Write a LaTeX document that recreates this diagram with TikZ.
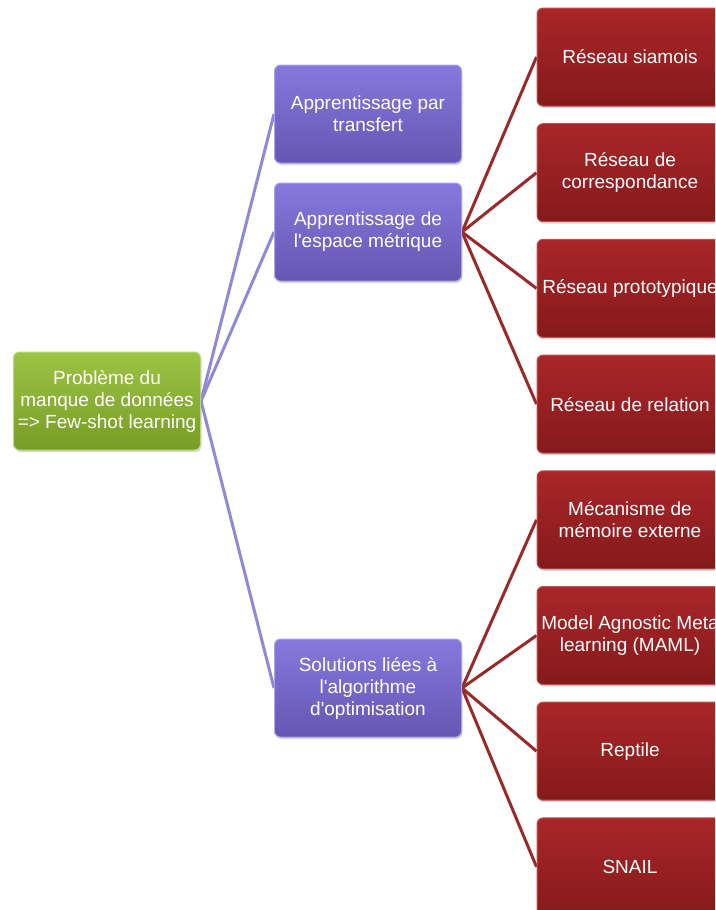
\documentclass[tikz,border=0pt]{standalone}
\usepackage{fontspec}
\setmainfont{Liberation Sans}[Ligatures=TeXOff]
\usetikzlibrary{positioning,shadows,backgrounds}

\definecolor{rootgreenA}{HTML}{9CC444}
\definecolor{rootgreenB}{HTML}{789C26}
\definecolor{midpurpleA}{HTML}{8579DD}
\definecolor{midpurpleB}{HTML}{6656B3}
\definecolor{leafredA}{HTML}{AA2628}
\definecolor{leafredB}{HTML}{851A1B}
\definecolor{linkpurple}{HTML}{8F89DA}
\definecolor{linkred}{HTML}{9A2A2A}

\begin{document}
\begin{tikzpicture}[x=1pt,y=-1pt,font=\fontsize{19}{22}\selectfont,
 node distance=16.7pt and 75pt,
 box/.style={rounded corners=6pt,text=white,align=center,inner sep=2pt,
  minimum width=187pt,minimum height=98pt,
  drop shadow={opacity=0.3,shadow xshift=1pt,shadow yshift=-2pt}},
 rootbox/.style={box,top color=rootgreenA,bottom color=rootgreenB,draw=rootgreenA!70!white,line width=1pt},
 midbox/.style={box,top color=midpurpleA,bottom color=midpurpleB,draw=midpurpleA!70!white,line width=1pt},
 leafbox/.style={box,minimum width=186pt,top color=leafredA,bottom color=leafredB,draw=leafredA!80!white,line width=1pt},
 midlink/.style={draw=linkpurple,line width=3pt},
 leaflink/.style={draw=linkred,line width=3pt}]
\useasboundingbox (0,0) rectangle (715,910);
\clip (0,0) rectangle (715,910);
% boxes
\node[rootbox] (root) at (107,401) {Problème du\\manque de données\\=> Few-shot learning};
\node[midbox] (transfert) at (368,114) {Apprentissage par\\transfert};
\node[midbox,below=19pt of transfert] (metrique) {Apprentissage de\\l'espace métrique};
\node[midbox] (optim) at (368,688) {Solutions liées à\\l'algorithme\\d'optimisation};
\node[leafbox] (siamois) at (630,57) {Réseau siamois};
\node[leafbox,below=of siamois] (corresp) {Réseau de\\correspondance};
\node[leafbox,below=of corresp] (proto) {Réseau prototypique};
\node[leafbox,below=of proto] (relation) {Réseau de relation};
\node[leafbox,below=of relation] (memoire) {Mécanisme de\\mémoire externe};
\node[leafbox,below=of memoire] (maml) {Model Agnostic Meta\\learning (MAML)};
\node[leafbox,below=of maml] (reptile) {Reptile};
\node[leafbox,below=of reptile] (snail) {SNAIL};
% links
\begin{scope}[on background layer]
\draw[midlink] (root.east) -- (transfert.west);
\draw[midlink] (root.east) -- (metrique.west);
\draw[midlink] (root.east) -- (optim.west);
\draw[leaflink] (metrique.east) -- (siamois.west);
\draw[leaflink] (metrique.east) -- (corresp.west);
\draw[leaflink] (metrique.east) -- (proto.west);
\draw[leaflink] (metrique.east) -- (relation.west);
\draw[leaflink] (optim.east) -- (memoire.west);
\draw[leaflink] (optim.east) -- (maml.west);
\draw[leaflink] (optim.east) -- (reptile.west);
\draw[leaflink] (optim.east) -- (snail.west);
\end{scope}
\end{tikzpicture}
\end{document}
